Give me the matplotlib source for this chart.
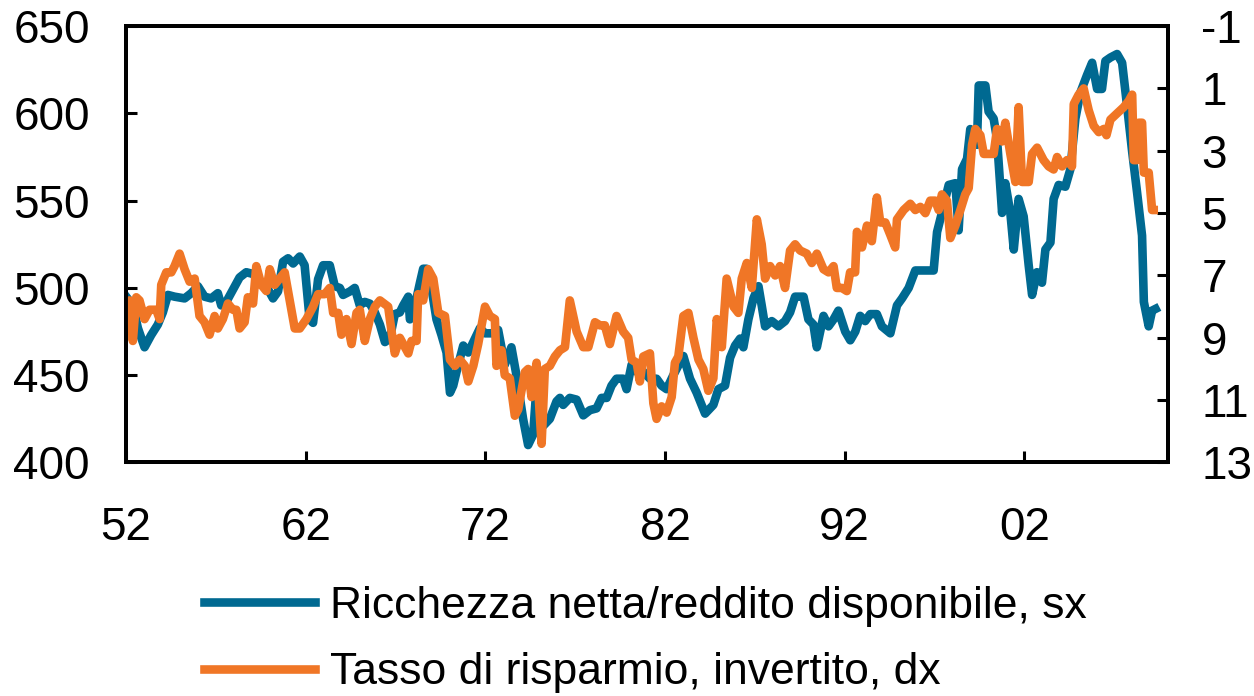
import matplotlib
matplotlib.use("Agg")
import matplotlib.pyplot as plt

plt.rcParams['font.family'] = ['Liberation Sans', 'DejaVu Sans']
plt.rcParams['axes.unicode_minus'] = False  # "-1" col trattino semplice

# ricchezza netta / reddito disponibile (asse sx)
anni_ricchezza = [
    1952.01, 1952.38, 1952.66, 1953.03, 1953.40, 1953.77, 1954.05, 1954.33, 1954.70, 1955.26,
    1955.63, 1956.00, 1956.37, 1956.74, 1957.11, 1957.30, 1957.58, 1957.95, 1958.32, 1958.69,
    1959.07, 1959.44, 1959.81, 1960.18, 1960.46, 1960.74, 1961.02, 1961.30, 1961.67, 1961.94,
    1962.22, 1962.41, 1962.69, 1962.97, 1963.34, 1963.62, 1963.90, 1964.08, 1964.46, 1964.73,
    1965.01, 1965.29, 1965.57, 1965.85, 1966.13, 1966.41, 1966.68, 1966.96, 1967.24, 1967.43,
    1967.71, 1967.80, 1968.08, 1968.36, 1968.54, 1968.73, 1969.00, 1969.28, 1969.56, 1969.84,
    1970.03, 1970.21, 1970.49, 1970.77, 1971.05, 1971.33, 1971.70, 1971.98, 1972.35, 1972.71,
    1973.08, 1973.45, 1973.73, 1974.10, 1974.38, 1974.66, 1974.79, 1975.22, 1975.59, 1975.96,
    1976.15, 1976.33, 1976.70, 1977.08, 1977.45, 1977.82, 1978.19, 1978.47, 1978.75, 1979.02,
    1979.30, 1979.67, 1979.86, 1980.14, 1980.42, 1980.79, 1981.16, 1981.53, 1981.81, 1982.09,
    1982.46, 1983.02, 1983.39, 1983.76, 1984.23, 1984.69, 1984.97, 1985.34, 1985.62, 1985.90,
    1986.18, 1986.36, 1986.64, 1986.92, 1987.20, 1987.38, 1987.57, 1987.94, 1988.31, 1988.68,
    1988.96, 1989.24, 1989.71, 1989.98, 1990.26, 1990.45, 1990.82, 1991.10, 1991.38, 1991.65,
    1992.03, 1992.31, 1992.59, 1992.86, 1993.14, 1993.42, 1993.79, 1994.07, 1994.54, 1994.91,
    1995.19, 1995.56, 1995.93, 1996.39, 1996.95, 1997.14, 1997.41, 1997.79, 1998.16, 1998.34,
    1998.53, 1998.81, 1998.99, 1999.36, 1999.46, 1999.83, 2000.01, 2000.29, 2000.48, 2000.76,
    2000.94, 2001.22, 2001.41, 2001.68, 2001.96, 2002.24, 2002.43, 2002.70, 2002.98, 2003.17,
    2003.45, 2003.63, 2003.91, 2004.28, 2004.56, 2004.84, 2005.12, 2005.49, 2005.77, 2006.05,
    2006.32, 2006.51, 2006.79, 2007.16, 2007.44, 2007.72, 2008.00, 2008.27, 2008.55, 2008.65,
    2008.92, 2009.11, 2009.30,
]
ricchezza = [
    495, 490, 477, 466, 473, 479, 486, 496, 495, 494,
    497, 501, 495, 494, 497, 490, 492, 499, 506, 509,
    508, 503, 501, 494, 498, 515, 517, 514, 518, 513,
    482, 480, 505, 513, 513, 501, 500, 496, 498, 500,
    490, 492, 491, 486, 479, 469, 471, 485, 486, 490,
    495, 482, 490, 503, 511, 511, 500, 482, 473, 463,
    440, 444, 456, 467, 463, 469, 477, 474, 474, 476,
    456, 466, 450, 425, 410, 416, 435, 421, 425, 435,
    437, 433, 437, 436, 427, 430, 431, 437, 437, 444,
    448, 448, 442, 456, 452, 452, 448, 448, 444, 442,
    450, 461, 448, 440, 428, 433, 442, 444, 460, 467,
    471, 466, 482, 494, 501, 490, 478, 481, 478, 481,
    486, 495, 495, 482, 479, 466, 484, 478, 482, 487,
    475, 470, 475, 484, 481, 485, 485, 478, 474, 490,
    494, 500, 510, 510, 510, 532, 543, 559, 560, 533,
    568, 574, 591, 582, 616, 616, 601, 597, 585, 543,
    560, 543, 522, 551, 541, 513, 496, 509, 503, 522,
    526, 551, 559, 558, 568, 597, 612, 622, 629, 614,
    614, 630, 632, 634, 629, 604, 578, 555, 530, 492,
    478, 487, 488,
]

# tasso di risparmio, scala invertita (asse dx)
anni_risparmio = [
    1952.01, 1952.19, 1952.38, 1952.57, 1952.75, 1953.03, 1953.31, 1953.68, 1953.87, 1953.96,
    1954.24, 1954.52, 1954.70, 1954.98, 1955.26, 1955.54, 1955.82, 1956.09, 1956.37, 1956.65,
    1956.93, 1957.11, 1957.39, 1957.67, 1957.95, 1958.14, 1958.32, 1958.60, 1958.78, 1959.07,
    1959.25, 1959.53, 1959.81, 1960.00, 1960.27, 1960.55, 1960.83, 1961.11, 1961.39, 1961.67,
    1962.04, 1962.41, 1962.69, 1963.06, 1963.34, 1963.53, 1963.81, 1963.99, 1964.27, 1964.55,
    1964.83, 1965.01, 1965.29, 1965.57, 1965.85, 1966.13, 1966.59, 1966.78, 1966.96, 1967.24,
    1967.43, 1967.71, 1967.89, 1968.17, 1968.26, 1968.54, 1968.82, 1969.10, 1969.38, 1969.75,
    1970.03, 1970.31, 1970.58, 1970.86, 1971.05, 1971.33, 1971.60, 1971.98, 1972.25, 1972.53,
    1972.62, 1972.90, 1973.08, 1973.36, 1973.64, 1973.83, 1974.01, 1974.20, 1974.38, 1974.57,
    1974.85, 1975.13, 1975.31, 1975.59, 1975.87, 1976.15, 1976.43, 1976.70, 1977.08, 1977.45,
    1977.73, 1978.10, 1978.38, 1978.65, 1978.93, 1979.30, 1979.67, 1979.95, 1980.14, 1980.42,
    1980.60, 1980.79, 1981.16, 1981.35, 1981.53, 1981.81, 1982.09, 1982.37, 1982.55, 1982.74,
    1983.02, 1983.30, 1983.58, 1983.86, 1984.13, 1984.41, 1984.69, 1984.88, 1985.16, 1985.43,
    1985.81, 1986.08, 1986.27, 1986.55, 1986.83, 1987.11, 1987.38, 1987.57, 1987.85, 1988.13,
    1988.40, 1988.68, 1988.96, 1989.24, 1989.52, 1989.89, 1990.17, 1990.45, 1990.82, 1991.10,
    1991.38, 1991.56, 1991.84, 1992.12, 1992.30, 1992.58, 1992.68, 1992.96, 1993.24, 1993.51,
    1993.79, 1993.98, 1994.26, 1994.54, 1994.81, 1994.91, 1995.28, 1995.65, 1995.93, 1996.21,
    1996.49, 1996.76, 1997.04, 1997.23, 1997.41, 1997.69, 1997.88, 1998.16, 1998.44, 1998.71,
    1998.90, 1999.09, 1999.27, 1999.55, 1999.74, 2000.01, 2000.29, 2000.48, 2000.76, 2000.94,
    2001.22, 2001.50, 2001.68, 2001.87, 2002.24, 2002.43, 2002.71, 2003.07, 2003.35, 2003.63,
    2003.82, 2004.10, 2004.37, 2004.65, 2004.75, 2005.02, 2005.30, 2005.58, 2005.86, 2006.14,
    2006.42, 2006.57, 2006.79, 2007.16, 2007.53, 2007.81, 2008.00, 2008.09, 2008.27, 2008.37,
    2008.55, 2008.65, 2008.92, 2009.11, 2009.20,
]
risparmio = [
    8.2, 7.8, 9.1, 7.7, 7.8, 8.4, 8.1, 8.1, 8.4, 7.3,
    6.9, 6.9, 6.7, 6.3, 6.8, 7.2, 7.1, 8.3, 8.5, 8.9,
    8.3, 8.7, 8.4, 7.9, 8.1, 8.1, 8.7, 8.5, 7.7, 7.9,
    6.7, 7.3, 7.5, 6.8, 7.3, 7.1, 6.9, 7.8, 8.7, 8.7,
    8.4, 8.0, 7.6, 7.6, 7.4, 8.2, 8.2, 8.9, 8.4, 9.2,
    8.2, 8.1, 9.1, 8.4, 8.0, 7.8, 8.0, 8.8, 9.5, 9.0,
    9.2, 9.5, 9.1, 9.1, 7.6, 7.8, 6.8, 7.1, 8.2, 8.3,
    9.7, 9.9, 9.7, 9.9, 10.4, 9.9, 9.2, 8.0, 8.3, 8.4,
    9.9, 9.4, 10.2, 10.3, 11.5, 11.3, 10.7, 10.1, 10.0, 10.9,
    9.8, 12.4, 10.0, 9.9, 9.6, 9.4, 9.3, 7.8, 8.8, 9.3,
    9.3, 8.5, 8.6, 8.6, 9.2, 8.3, 8.8, 9.0, 9.7, 9.8,
    10.4, 9.6, 9.5, 11.1, 11.6, 11.2, 11.4, 10.9, 9.8, 9.6,
    8.3, 8.2, 9.0, 9.7, 10.0, 10.7, 10.3, 8.4, 9.3, 7.1,
    8.0, 8.2, 7.1, 6.6, 7.4, 5.2, 6.0, 7.1, 6.7, 7.0,
    6.7, 7.4, 6.2, 6.0, 6.2, 6.3, 6.6, 6.3, 6.8, 6.9,
    6.7, 7.4, 7.4, 7.5, 6.9, 6.9, 5.6, 6.1, 5.4, 5.9,
    4.5, 5.3, 5.3, 5.7, 6.1, 5.2, 4.9, 4.7, 4.9, 4.8,
    5.0, 4.6, 4.6, 4.9, 4.4, 4.6, 5.8, 5.4, 4.9, 4.4,
    4.2, 2.8, 2.3, 2.5, 3.1, 3.1, 3.1, 2.3, 2.7, 2.1,
    3.1, 4.0, 1.6, 4.0, 4.0, 3.1, 2.9, 3.3, 3.5, 3.6,
    3.2, 3.5, 3.3, 3.5, 1.5, 1.2, 1.0, 1.7, 2.2, 2.4,
    2.3, 2.5, 2.0, 1.8, 1.6, 1.4, 1.2, 3.3, 3.3, 2.1,
    2.1, 3.7, 3.7, 4.9, 4.9,
]

anni_tick = [1952, 1962, 1972, 1982, 1992, 2002]
etichette_tick = ['52', '62', '72', '82', '92', '02']

blu = '#006991'
arancio = '#F07626'

fig = plt.figure(figsize=(12.54, 6.96), dpi=100)
ax = fig.add_axes([0.1005, 0.3355, 0.831, 0.627])
ax2 = ax.twinx()

l1, = ax.plot(anni_ricchezza, ricchezza, color=blu, lw=6.2,
              label='Ricchezza netta/reddito disponibile, sx')
l2, = ax2.plot(anni_risparmio, risparmio, color=arancio, lw=6.2,
               label='Tasso di risparmio, invertito, dx')

ax.set_xlim(1952, 2010)
ax.set_ylim(400, 650)
ax.set_yticks(range(400, 651, 50))
ax.set_xticks(anni_tick)
ax.set_xticklabels(etichette_tick)

ax2.set_ylim(13, -1)
ax2.set_yticks(range(-1, 14, 2))

for a in (ax, ax2):
    for s in a.spines.values():
        s.set_linewidth(2.8)

ax.tick_params(axis='y', direction='in', length=8, width=2.2, labelsize=33, pad=26)
ax.tick_params(axis='x', direction='in', length=8, width=2.2, labelsize=33, pad=31)
ax2.tick_params(axis='y', direction='in', length=8, width=2.2, labelsize=33, pad=24)

fig.legend(handles=[l1, l2], loc='upper left', bbox_to_anchor=(0.1625, 0.158),
           frameon=False, fontsize=32, handlelength=2.5, handletextpad=0.35,
           labelspacing=0.57, borderpad=0, borderaxespad=0)

fig.savefig('out.png', dpi=100)
